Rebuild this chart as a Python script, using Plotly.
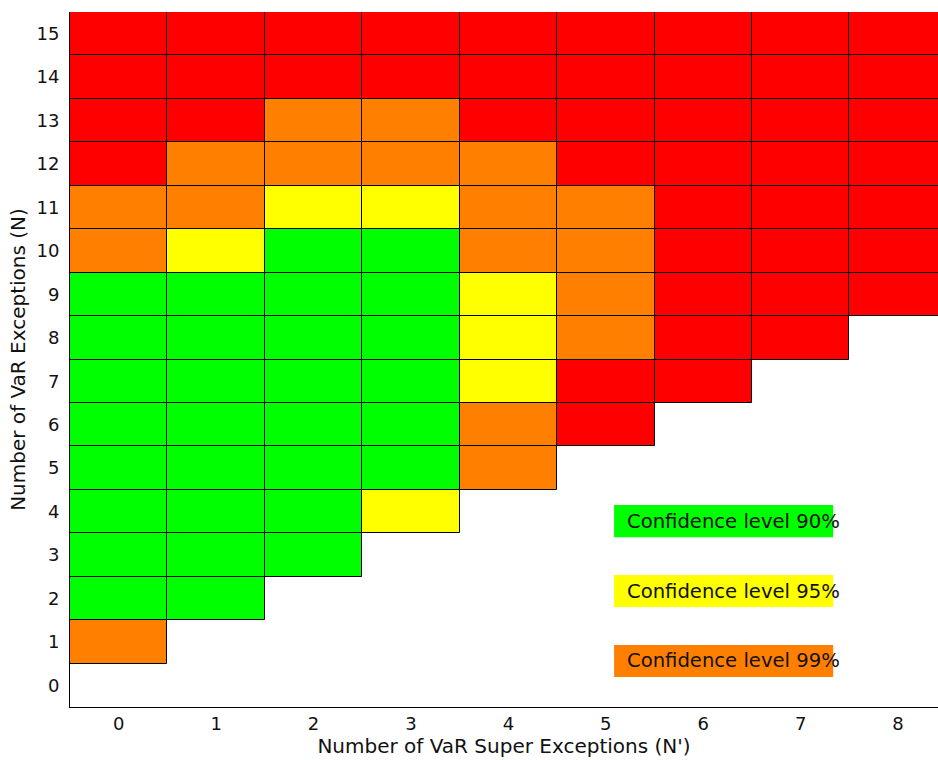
import plotly.graph_objects as go

# Columns: N' = 0..8 ; rows: N = 0..15 (bottom to top)
x_ticks = [0, 1, 2, 3, 4, 5, 6, 7, 8]
y_ticks = list(range(16))

# Zone code per cell, row N from 0 to 15; "" = no cell
grid_rows = [
    ["",  "",  "",  "",  "",  "",  "",  "",  ""],   # N=0
    ["O", "",  "",  "",  "",  "",  "",  "",  ""],   # N=1
    ["G", "G", "",  "",  "",  "",  "",  "",  ""],   # N=2
    ["G", "G", "G", "",  "",  "",  "",  "",  ""],   # N=3
    ["G", "G", "G", "Y", "",  "",  "",  "",  ""],   # N=4
    ["G", "G", "G", "G", "O", "",  "",  "",  ""],   # N=5
    ["G", "G", "G", "G", "O", "R", "",  "",  ""],   # N=6
    ["G", "G", "G", "G", "Y", "R", "R", "",  ""],   # N=7
    ["G", "G", "G", "G", "Y", "O", "R", "R", ""],   # N=8
    ["G", "G", "G", "G", "Y", "O", "R", "R", "R"],  # N=9
    ["O", "Y", "G", "G", "O", "O", "R", "R", "R"],  # N=10
    ["O", "O", "Y", "Y", "O", "O", "R", "R", "R"],  # N=11
    ["R", "O", "O", "O", "O", "R", "R", "R", "R"],  # N=12
    ["R", "R", "O", "O", "R", "R", "R", "R", "R"],  # N=13
    ["R", "R", "R", "R", "R", "R", "R", "R", "R"],  # N=14
    ["R", "R", "R", "R", "R", "R", "R", "R", "R"],  # N=15
]

zone_codes = ["G", "Y", "O", "R"]
zone_colors = {"G": "#00FF00", "Y": "#FFFF00", "O": "#FF8000", "R": "#FF0000"}
legend_labels = ["Confidence level 90%", "Confidence level 95%", "Confidence level 99%"]

fig = go.Figure()
for code in zone_codes:
    xs, bases = [], []
    for n, row in enumerate(grid_rows):
        for k, c in enumerate(row):
            if c == code:
                xs.append(x_ticks[k])
                bases.append(y_ticks[n] - 0.5)
    fig.add_trace(go.Bar(
        x=xs, y=[1] * len(xs), base=bases, width=1,
        marker=dict(color=zone_colors[code], line=dict(color="#000000", width=1)),
        showlegend=False, hoverinfo="skip",
    ))

# Legend boxes (drawn in data coordinates)
legend_centers = [3.78, 2.17, 0.56]
for lab, code, yc in zip(legend_labels, ["G", "Y", "O"], legend_centers):
    fig.add_shape(type="rect", x0=5.085, x1=7.334, y0=yc - 0.37, y1=yc + 0.37,
                  xref="x", yref="y", fillcolor=zone_colors[code],
                  line=dict(width=0), layer="above")
    fig.add_annotation(x=5.198, y=yc, xref="x", yref="y", text=lab,
                       showarrow=False, xanchor="left", yanchor="middle",
                       font=dict(size=19.6, color="#111111"))

fig.update_layout(
    width=938, height=760,
    margin=dict(l=70, r=0, t=12, b=53, autoexpand=False),
    paper_bgcolor="white", plot_bgcolor="white",
    barmode="overlay", bargap=0,
    font=dict(family="DejaVu Sans, sans-serif", size=18, color="#111111"),
    xaxis=dict(range=[-0.5, 8.41], tickmode="array", tickvals=x_ticks,
               ticktext=[str(v) for v in x_ticks], showgrid=False, zeroline=False,
               showline=True, linecolor="#000000", linewidth=1, ticks="",
               automargin=False,
               title=dict(text="Number of VaR Super Exceptions (N')", standoff=5,
                          font=dict(size=20))),
    yaxis=dict(range=[-0.5, 15.5], tickmode="array", tickvals=y_ticks,
               ticktext=[str(v) for v in y_ticks], showgrid=False, zeroline=False,
               showline=True, linecolor="#000000", linewidth=1, ticks="",
               automargin=False, ticklabelstandoff=6,
               title=dict(text="Number of VaR Exceptions (N)", standoff=5,
                          font=dict(size=20))),
)

fig.write_html(
    "out.html",
    config={"displayModeBar": False},
    post_script=("document.body.style.margin='0px';"
                 "document.body.style.overflow='hidden';"
                 "Plotly.Plots.resize(document.getElementById('{plot_id}'));"),
)
